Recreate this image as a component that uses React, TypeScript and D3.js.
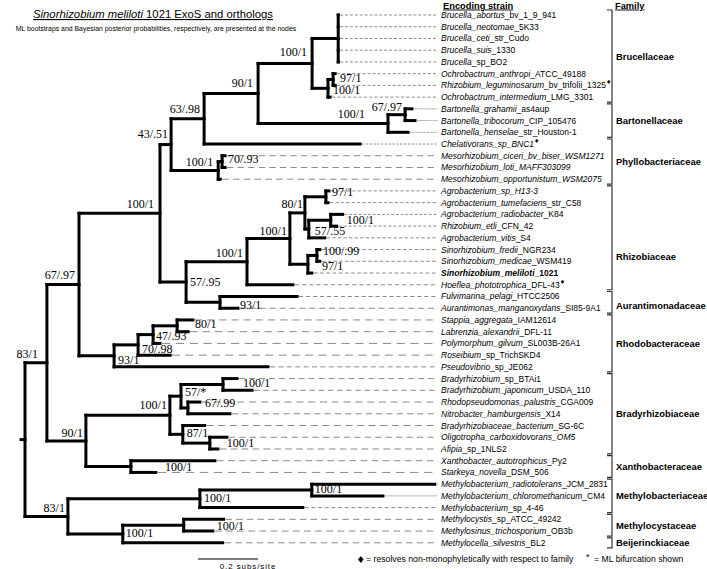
import React from "react";
import * as d3 from "d3";

// ---------- DATA ----------
// strain labels: [italic part, upright part]
const strains: [string, string][] = [
  ["Brucella_abortus", "_bv_1_9_941"],
  ["Brucella_neotomae", "_5K33"],
  ["Brucella_ceti", "_str_Cudo"],
  ["Brucella_suis", "_1330"],
  ["Brucella", "_sp_BO2"],
  ["Ochrobactrum_anthropi", "_ATCC_49188"],
  ["Rhizobium_leguminosarum", "_bv_trifolii_1325"],
  ["Ochrobactrum_intermedium", "_LMG_3301"],
  ["Bartonella_grahamii", "_as4aup"],
  ["Bartonella_tribocorum", "_CIP_105476"],
  ["Bartonella_henselae", "_str_Houston-1"],
  ["Chelativorans_sp_BNC1", ""],
  ["Mesorhizobium_ciceri_bv_biser_WSM1271", ""],
  ["Mesorhizobium_loti_MAFF303099", ""],
  ["Mesorhizobium_opportunistum_WSM2075", ""],
  ["Agrobacterium_sp_H13-3", ""],
  ["Agrobacterium_tumefaciens", "_str_C58"],
  ["Agrobacterium_radiobacter", "_K84"],
  ["Rhizobium_etli", "_CFN_42"],
  ["Agrobacterium_vitis", "_S4"],
  ["Sinorhizobium_fredii", "_NGR234"],
  ["Sinorhizobium_medicae", "_WSM419"],
  ["Sinorhizobium_meliloti", "_1021"],
  ["Hoeflea_phototrophica", "_DFL-43"],
  ["Fulvimarina_pelagi", "_HTCC2506"],
  ["Aurantimonas_manganoxydans", "_SI85-9A1"],
  ["Stappia_aggregata", "_IAM12614"],
  ["Labrenzia_alexandrii", "_DFL-11"],
  ["Polymorphum_gilvum", "_SL003B-26A1"],
  ["Roseibium", "_sp_TrichSKD4"],
  ["Pseudovibrio", "_sp_JE062"],
  ["Bradyrhizobium", "_sp_BTAi1"],
  ["Bradyrhizobium_japonicum", "_USDA_110"],
  ["Rhodopseudomonas_palustris", "_CGA009"],
  ["Nitrobacter_hamburgensis", "_X14"],
  ["Bradyrhizobiaceae_bacterium", "_SG-6C"],
  ["Oligotropha_carboxidovorans_OM5", ""],
  ["Afipia", "_sp_1NLS2"],
  ["Xanthobacter_autotrophicus", "_Py2"],
  ["Starkeya_novella", "_DSM_506"],
  ["Methylobacterium_radiotolerans", "_JCM_2831"],
  ["Methylobacterium_chloromethanicum", "_CM4"],
  ["Methylobacterium", "_sp_4-46"],
  ["Methylocystis", "_sp_ATCC_49242"],
  ["Methylosinus_trichosporium", "_OB3b"],
  ["Methylocella_silvestris", "_BL2"],
];
const diamondLeaves = [6, 11, 23];
const boldLeaves = [22];

// tree: [id, parentId, branch length (subs/site), support]
const treeRows: [string, string, number, string][] = [
  ["root", "", 0, ""],
  ["A", "root", 0.073, "83/1"],
  ["B", "A", 0.107, "67/.97"],
  ["C", "B", 0.27, "100/1"],
  ["D", "C", 0.037, "43/.51"],
  ["E", "D", 0.11, "63/.98"],
  ["F", "E", 0.18, "90/1"],
  ["G", "F", 0.18, "100/1"],
  ["H", "G", 0.087, ""],
  ["s0", "H", 0, ""], ["s1", "H", 0, ""], ["s2", "H", 0, ""], ["s3", "H", 0, ""], ["s4", "H", 0, ""],
  ["I", "G", 0.053, "100/1"],
  ["J", "I", 0.017, "97/1"],
  ["s5", "J", 0.007, ""], ["s6", "J", 0.007, ""],
  ["s7", "I", 0.007, ""],
  ["K", "F", 0.433, "100/1"],
  ["BN", "K", 0.057, "67/.97"],
  ["s8", "BN", 0.023, ""], ["s9", "BN", 0.033, ""],
  ["s10", "K", 0.067, ""],
  ["s11", "E", 0.52, ""],
  ["Lm", "D", 0.157, "100/1"],
  ["M", "Lm", 0.013, "70/.93"],
  ["s12", "M", 0.01, ""], ["s13", "M", 0.01, ""],
  ["s14", "Lm", 0.007, ""],
  ["N", "C", 0.087, "57/.95"],
  ["O", "N", 0.203, "100/1"],
  ["Q", "O", 0.143, "100/1"],
  ["R", "Q", 0.05, "80/1"],
  ["T", "R", 0.07, "97/1"],
  ["s15", "T", 0.01, ""], ["s16", "T", 0.007, ""],
  ["U", "R", 0.013, "57/.55"],
  ["V", "U", 0.073, "100/1"],
  ["s17", "V", 0.04, ""], ["s18", "V", 0.02, ""],
  ["s19", "U", 0.053, ""],
  ["S", "Q", 0.06, "97/1"],
  ["W", "S", 0.03, "100/.99"],
  ["s20", "W", 0.01, ""], ["s21", "W", 0.01, ""],
  ["s22", "S", 0.013, ""],
  ["s23", "O", 0.153, ""],
  ["P", "N", 0.113, "93/1"],
  ["s24", "P", 0.257, ""], ["s25", "P", 0.06, ""],
  ["X", "B", 0.117, "93/1"],
  ["Y", "X", 0.08, "70/.98"],
  ["Z", "Y", 0.05, "47/.93"],
  ["AA", "Z", 0.08, "80/1"],
  ["s26", "AA", 0.053, ""], ["s27", "AA", 0.037, ""],
  ["s28", "Z", 0.023, ""],
  ["s29", "Y", 0.107, ""],
  ["s30", "X", 0.513, ""],
  ["BB", "A", 0.13, "90/1"],
  ["CC", "BB", 0.28, "100/1"],
  ["EE", "CC", 0.037, "57/*"],
  ["GG", "EE", 0.14, "100/1"],
  ["s31", "GG", 0.047, ""], ["s32", "GG", 0.097, ""],
  ["HH", "EE", 0.023, "67/.99"],
  ["s33", "HH", 0.04, ""], ["s34", "HH", 0.14, ""],
  ["FF", "CC", 0.043, "87/1"],
  ["s35", "FF", 0.073, ""],
  ["II", "FF", 0.09, "100/1"],
  ["s36", "II", 0.057, ""], ["s37", "II", 0.027, ""],
  ["DD", "BB", 0.15, "100/1"],
  ["s38", "DD", 0.28, ""], ["s39", "DD", 0.083, ""],
  ["JJ", "root", 0.143, "83/1"],
  ["KK", "JJ", 0.44, "100/1"],
  ["MM", "KK", 0.373, "100/1"],
  ["s40", "MM", 0.41, ""], ["s41", "MM", 0.237, ""],
  ["s42", "KK", 0.343, ""],
  ["LL", "JJ", 0.183, "100/1"],
  ["NN", "LL", 0.203, "100/1"],
  ["s43", "NN", 0.133, ""], ["s44", "NN", 0.097, ""],
  ["s45", "LL", 0.333, ""],
];

// families: [name, first leaf, last leaf, label position (leaf index) or null]
const families: [string, number, number, number | null][] = [
  ["Brucellaceae", 0, 7, null],
  ["Bartonellaceae", 8, 10, null],
  ["Phyllobacteriaceae", 11, 14, null],
  ["Rhizobiaceae", 15, 23, 20.6],
  ["Aurantimonadaceae", 24, 25, 24.8],
  ["Rhodobacteraceae", 26, 30, null],
  ["Bradyrhizobiaceae", 31, 37, null],
  ["Xanthobacteraceae", 38, 39, null],
  ["Methylobacteriaceae", 40, 42, null],
  ["Methylocystaceae", 43, 44, null],
  ["Beijerinckiaceae", 45, 45, null],
];

const scaleBarValue = 0.2;

// ---------- STYLE / LAYOUT ----------
const labelPos: Record<string, [string, number, number]> = {
  A: ["end", -9, -9], B: ["end", -4, -10], C: ["end", -6, -9], D: ["end", -3, -11],
  E: ["end", -4, -10], F: ["end", -5, -10], G: ["end", -5, -11],
  I: ["start", 5, 2], J: ["start", 7, -2], K: ["end", -23, -9], BN: ["end", -3, -8],
  Lm: ["end", -5, -8], M: ["start", 6, -3], N: ["start", 4, 0], O: ["end", -4, -8.5],
  Q: ["end", -3, -8], R: ["end", -2, -9], T: ["start", 6, -5], U: ["start", 6, 2],
  V: ["start", 16, 0], S: ["start", 14, 2], W: ["start", 6, -4], P: ["start", 20, 3],
  X: ["start", 4, 4], Y: ["start", 4, 4], Z: ["start", 3, 1.5], AA: ["start", 18, -2],
  BB: ["end", -3, -8], CC: ["end", -3, -10], EE: ["start", 4, -4], GG: ["start", 20, -1.5],
  HH: ["start", 17, -5], FF: ["start", 4, -1], II: ["start", 17, 0], DD: ["start", 34, 0.5],
  JJ: ["end", -3, -8], KK: ["start", 4, -1], MM: ["start", 3, -1], LL: ["start", 3, -1],
  NN: ["start", 33, 1],
};

const SANS = "'Liberation Sans', Arial, Helvetica, sans-serif";
const SERIF = "'Liberation Serif', 'Times New Roman', serif";

export default function App() {
  const W = 707, H = 569;
  const xScale = d3.scaleLinear().domain([0, 1]).range([25, 325]);
  const yScale = d3.scaleLinear().domain([0, strains.length - 1]).range([15, 542.8]);
  const labelX = 441;
  const leaderEnd = 438;
  const bracketX = 612;

  const root = d3
    .stratify<[string, string, number, string]>()
    .id((d) => d[0])
    .parentId((d) => (d[1] === "" ? null : d[1]))(treeRows);

  const depth = new Map<any, number>();
  const ypos = new Map<any, number>();
  root.eachBefore((n: any) => {
    depth.set(n, n.parent ? depth.get(n.parent)! + n.data[2] : 0);
  });
  root.eachAfter((n: any) => {
    if (!n.children) ypos.set(n, yScale(parseInt(n.data[0].slice(1))));
    else ypos.set(n, (ypos.get(n.children[0])! + ypos.get(n.children[n.children.length - 1])!) / 2);
  });

  const nodes = root.descendants();
  const lines: any[] = [];
  nodes.forEach((n: any, i: number) => {
    const x = xScale(depth.get(n)!);
    const y = ypos.get(n)!;
    if (n.children) {
      const y0 = ypos.get(n.children[0])!;
      const y1 = ypos.get(n.children[n.children.length - 1])!;
      lines.push(<line key={"v" + i} x1={x} x2={x} y1={y0} y2={y1} />);
    }
    if (n.parent) {
      const px = xScale(depth.get(n.parent)!);
      lines.push(<line key={"h" + i} x1={px} x2={x} y1={y} y2={y} />);
    } else {
      lines.push(<line key="stub" x1={x - 4} x2={x} y1={y} y2={y} />);
    }
  });

  const leaves = root.leaves();

  const barX0 = 198;
  const barW = xScale(scaleBarValue) - xScale(0);

  return (
    <svg width={W} height={H} style={{ position: "absolute", left: 0, top: 0, background: "#fff" }}>
      <rect width={W} height={H} fill="#fff" />
      {/* title */}
      <text x={153} y={18} textAnchor="middle" fontFamily={SANS} fontSize={11.3} textDecoration="underline" fill="#000">
        <tspan fontStyle="italic">Sinorhizobium meliloti</tspan> 1021 ExoS and orthologs
      </text>
      <text x={156} y={30.5} textAnchor="middle" fontFamily={SANS} fontSize={6.9} fill="#000">
        ML bootstraps and Bayesian posterior probabilities, respectively, are presented at the nodes
      </text>
      {/* headers */}
      <text x={443} y={8.5} fontFamily={SANS} fontSize={9.3} fontWeight="bold" textDecoration="underline">Encoding strain</text>
      <text x={615} y={8.5} fontFamily={SANS} fontSize={9.3} fontWeight="bold" textDecoration="underline">Family</text>

      {/* leaders */}
      <g stroke="#8a8a8a" strokeWidth={1} fill="none">
        {leaves.map((l: any, i: number) => {
          const tx = xScale(depth.get(l)!) + 2;
          const len = leaderEnd - tx;
          if (len <= 0) return null;
          const p = len / 20;
          return (
            <line key={i} x1={tx} x2={leaderEnd} y1={ypos.get(l)} y2={ypos.get(l)}
              strokeDasharray={`${(p * 0.6).toFixed(2)} ${(p * 0.4).toFixed(2)}`} />
          );
        })}
      </g>

      {/* tree */}
      <g stroke="#000" strokeWidth={3} strokeLinecap="square" fill="none">{lines}</g>

      {/* support values */}
      <g fontFamily={SERIF} fontSize={12} fill="#000">
        {nodes.filter((n: any) => n.data[3]).map((n: any, i: number) => {
          const pos = labelPos[n.data[0]] || ["end", -4, -9];
          return (
            <text key={i} x={xScale(depth.get(n)!) + pos[1]} y={ypos.get(n)! + pos[2]}
              textAnchor={pos[0]} dominantBaseline="central">{n.data[3]}</text>
          );
        })}
      </g>

      {/* leaf labels */}
      <g fontFamily={SANS} fontSize={8.5} fill="#000">
        {strains.map((s, i) => (
          <text key={i} x={labelX} y={yScale(i)} dominantBaseline="central"
            fontWeight={boldLeaves.includes(i) ? "bold" : "normal"}>
            <tspan fontStyle="italic">{s[0]}</tspan>
            {s[1] ? <tspan>{s[1]}</tspan> : null}
            {diamondLeaves.includes(i) ? (
              <tspan fontFamily="'DejaVu Sans', sans-serif" fontSize={6} dy={-4}>♦</tspan>
            ) : null}
          </text>
        ))}
      </g>

      {/* family brackets */}
      <g stroke="#333" strokeWidth={1.2} fill="none">
        {families.map((f, i) => {
          const y0 = yScale(f[1]) - 5;
          const y1 = yScale(f[2]) + 5;
          return (
            <path key={i} d={`M${bracketX - 5},${y0}H${bracketX}V${y1}H${bracketX - 5}`} />
          );
        })}
      </g>
      <g fontFamily={SANS} fontSize={9.4} fontWeight="bold" fill="#000">
        {families.map((f, i) => {
          const yy = f[3] !== null ? yScale(f[3] as number) : (yScale(f[1]) + yScale(f[2])) / 2;
          return (
            <text key={i} x={616} y={yy} dominantBaseline="central">{f[0]}</text>
          );
        })}
      </g>

      {/* scale bar */}
      <line x1={barX0} x2={barX0 + barW} y1={559} y2={559} stroke="#000" strokeWidth={1.2} />
      <text x={248} y={568.5} textAnchor="middle" fontFamily={SANS} fontSize={8} letterSpacing={0.9}>
        {scaleBarValue} subs/site
      </text>

      {/* legend */}
      <text x={356.5} y={559} fontFamily="'DejaVu Sans', sans-serif" fontSize={9.5} dominantBaseline="central">♦</text>
      <text x={366} y={559} fontFamily={SANS} fontSize={8.7} dominantBaseline="central">
        = resolves non-monophyletically with respect to family
      </text>
      <text x={586} y={557} fontFamily={SANS} fontSize={8.7} dominantBaseline="central">*</text>
      <text x={594} y={559} fontFamily={SANS} fontSize={8.7} dominantBaseline="central">= ML bifurcation shown</text>
    </svg>
  );
}
